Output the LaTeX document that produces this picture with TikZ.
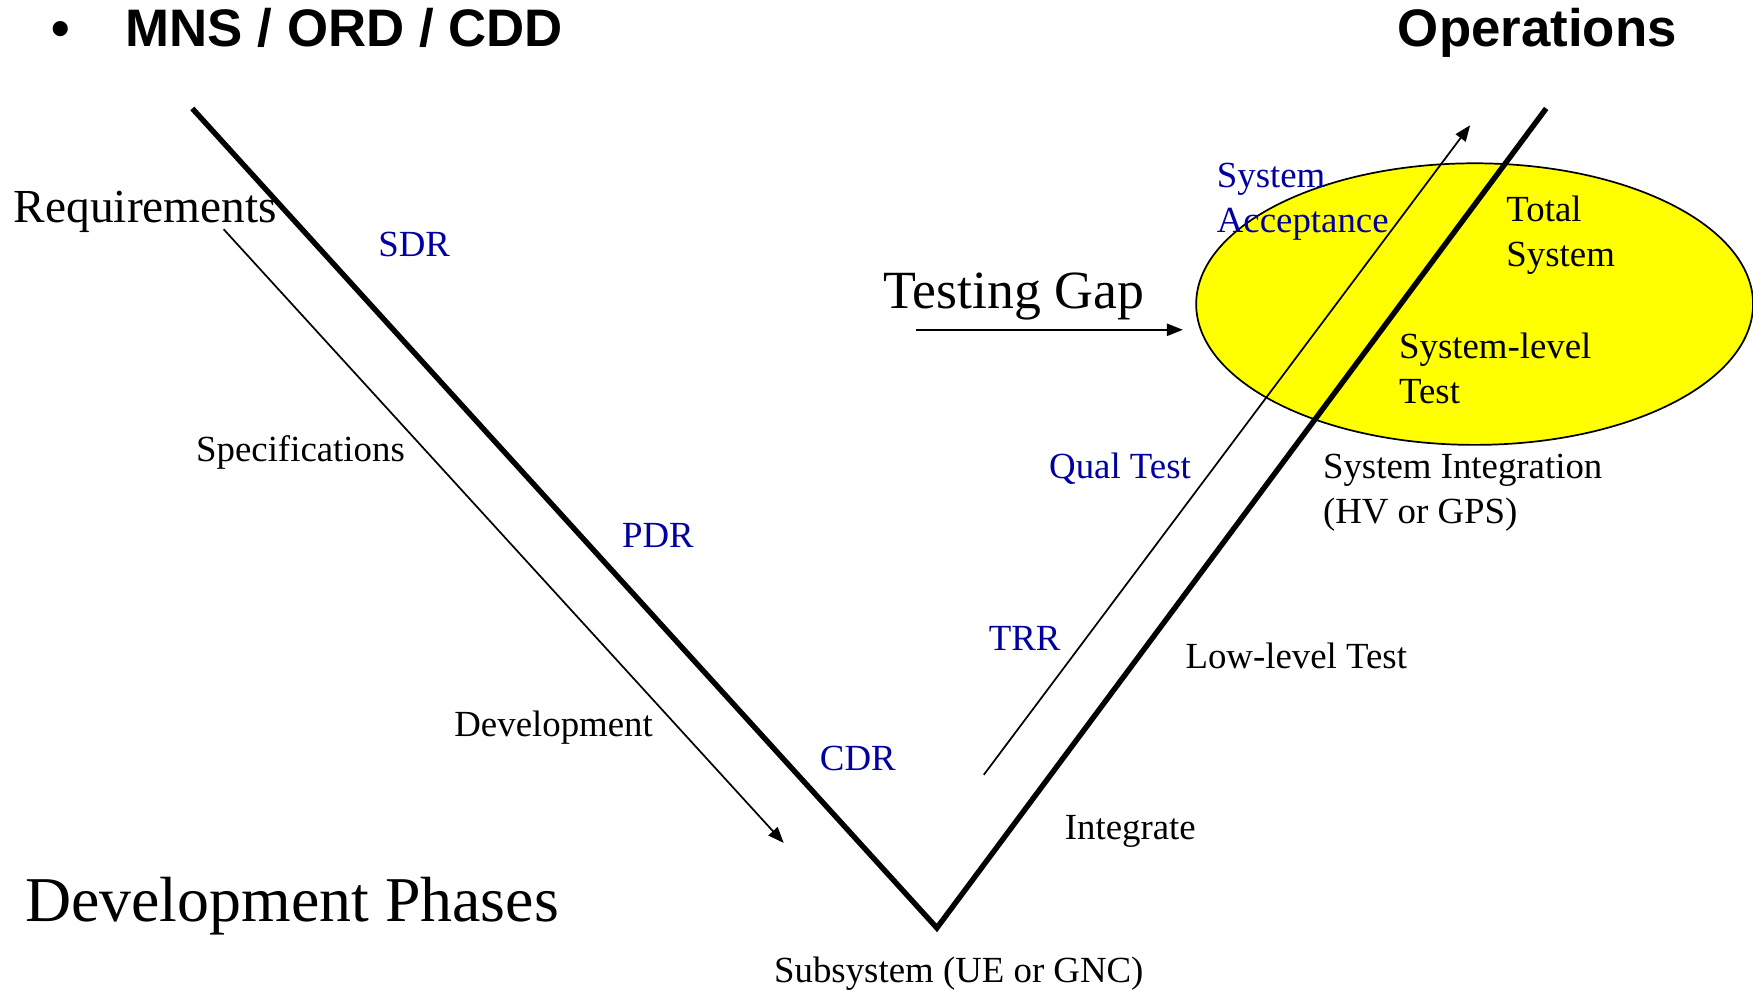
\documentclass[tikz,border=0pt]{standalone}
\usepackage{fontspec}
\setmainfont{Liberation Serif}
\setsansfont{Liberation Sans}
\usepackage{xcolor}
\definecolor{ReviewBlue}{HTML}{0000A0}
\definecolor{GapYellow}{HTML}{FFFF00}
\usetikzlibrary{shapes.geometric, arrows.meta}
\tikzset{
  vee line/.style={line width=2.2pt, line join=miter},
  flow arrow/.style={-{Triangle[length=6.5pt, width=5pt]}, line width=0.7pt},
  gap ellipse/.style={
    ellipse, draw, line width=0.7pt, fill=GapYellow,
    minimum width=79.7mm, minimum height=40.3mm, inner sep=0pt
  },
  phase label/.style={
    anchor=base west, inner sep=0pt, align=left,
    font=\fontsize{15}{18.2}\selectfont
  },
  review label/.style={phase label, text=ReviewBlue},
  big label/.style={anchor=base west, inner sep=0pt, font=\fontsize{#1}{#1}\selectfont},
  title label/.style={anchor=base west, inner sep=0pt, font=\sffamily\bfseries\fontsize{21.5}{25}\selectfont},
}

\begin{document}
\begin{tikzpicture}[x=0.16mm, y=-0.16mm]

  \useasboundingbox (0,0) rectangle (1568,886);

  % ── Headings ──────────────────────────────────────────────────────────────
  \node[title label] (bullet) at (46,42) {•};
  \node[title label] (docs)   at (112,42) {MNS / ORD / CDD};
  \node[title label] (ops)    at (1250,42) {Operations};

  % ── System-level test ellipse ─────────────────────────────────────────────
  \node[gap ellipse] (syslevel) at (1319,272) {};

  % ── V outline ─────────────────────────────────────────────────────────────
  \coordinate (vleft)   at (172,97);
  \coordinate (vbottom) at (838,830);
  \coordinate (vright)  at (1383,97);

  % ── Arrow ends ────────────────────────────────────────────────────────────
  \coordinate (devstart) at (200,205);
  \coordinate (devend)   at (701,754);
  \coordinate (teststart) at (880,693);
  \coordinate (testend)   at (1315,112);
  \coordinate (gapstart) at (819,295);
  \coordinate (gapend)   at (1058,295);

  % ── Left side labels ──────────────────────────────────────────────────────
  \node[big label=19.3] (reqs) at (12,199) {Requirements};
  \node[phase label] (specs) at (175,413) {Specifications};
  \node[phase label] (devel) at (406,659) {Development};
  \node[big label=26] (phases) at (22,824) {Development Phases};
  \node[review label] (sdr) at (338,229) {SDR};
  \node[review label] (pdr) at (556,490) {PDR};
  \node[review label] (cdr) at (733,689) {CDR};

  % ── Bottom + right side labels ────────────────────────────────────────────
  \node[phase label] (subsys) at (692,879) {Subsystem (UE or GNC)};
  \node[phase label] (integ)  at (952,751) {Integrate};
  \node[phase label] (lowtest) at (1060,598) {Low-level Test};
  \node[phase label] (sysint) at (1183,468) {System Integration\\(HV or GPS)};
  \node[review label] (trr)  at (884,582) {TRR};
  \node[review label] (qual) at (938,428) {Qual Test};
  \node[big label=21.9] (gap) at (790,276) {Testing Gap};

  % ── Labels inside the ellipse (base = last line) ──────────────────────────
  \node[review label] (accept) at (1088,208) {System\\Acceptance};
  \node[phase label] (total) at (1347,238) {Total\\System};
  \node[phase label] (sltest) at (1251,361) {System-level\\Test};

  % ── Lines ─────────────────────────────────────────────────────────────────
  \draw[vee line] (vleft) -- (vbottom) -- (vright);
  \draw[flow arrow] (devstart) -- (devend);
  \draw[flow arrow] (teststart) -- (testend);
  \draw[flow arrow] (gapstart) -- (gapend);

\end{tikzpicture}
\end{document}
